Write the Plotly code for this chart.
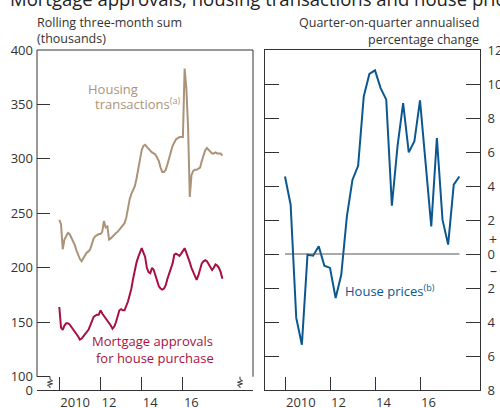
import plotly.graph_objects as go

# ---------------- data ----------------
# Monthly, Jan 2010 .. Dec 2017 (rolling three-month sums, thousands)
months_start = 2010
transactions = [244, 240, 217, 226, 229, 232, 231, 228, 225, 221, 216, 212,
                208, 206, 209, 212, 214, 215, 217, 222, 227, 229, 230, 231,
                231, 233, 243, 237, 238, 226, 227, 229, 230, 232, 233, 235,
                237, 239, 241, 246, 256, 263, 268, 271, 275, 282, 290, 300,
                308, 312, 313, 311, 309, 307, 306, 305, 304, 301, 298, 292,
                288, 288, 290, 295, 301, 307, 312, 315, 318, 319, 320, 320,
                320, 383, 365, 330, 265, 285, 289, 290, 290, 291, 292, 298,
                303, 308, 310, 308, 306, 305, 305, 306, 305, 305, 305, 303]
approvals = [164, 145, 143, 147, 149, 149, 148, 146, 143, 141, 140, 137,
             134, 135, 137, 139, 141, 143, 147, 152, 155, 156, 157, 157,
             161, 158, 156, 154, 152, 149, 147, 144, 146, 150, 155, 161,
             162, 161, 161, 165, 169, 175, 181, 190, 198, 205, 210, 215,
             218, 214, 210, 200, 196, 195, 200, 198, 193, 188, 183, 181,
             180, 181, 184, 190, 195, 200, 204, 212, 213, 212, 211, 213,
             215, 218, 214, 210, 205, 200, 196, 192, 189, 193, 198, 204,
             206, 207, 206, 203, 200, 198, 200, 203, 202, 200, 196, 190]
# Quarterly, 2010 Q1 .. 2017 Q4 (annualised % change)
house_prices = [4.56, 2.9, -3.76, -5.34, -0.04, -0.1, 0.45, -0.69,
                -0.82, -2.59, -1.22, 2.21, 4.37, 5.19, 9.27, 10.59,
                10.8, 9.76, 9.08, 2.84, 6.33, 8.88, 5.98, 6.63,
                9.04, 5.15, 1.62, 6.82, 2.02, 0.55, 4.08, 4.56]

x_tick_years = [2010, 2012, 2014, 2016]
x_tick_text = ["2010", "12", "14", "16"]
left_tick_vals = [100, 150, 200, 250, 300, 350, 400]
right_tick_vals = [-8, -6, -4, -2, 0, 2, 4, 6, 8, 10, 12]

month_x = [months_start + i / 12 for i in range(len(transactions))]
quarter_x = [months_start + i / 4 for i in range(len(house_prices))]

# ---------------- geometry helpers ----------------
W, H = 500, 408
def px(x):
    return x / W
def py(y):
    return 1 - y / H

TOP, BOT = 50, 390
L0, L1 = 37, 253
R0, R1 = 265, 480
Y100 = 376.7
LEFT_BOTTOM = 100 - (BOT - Y100) / ((Y100 - TOP) / 300)

TAN = "#ab937a"
RED = "#a8103f"
BLUE = "#0b5890"
AX = "#333333"
FONT = "Open Sans"

fig = go.Figure()
fig.add_trace(go.Scatter(x=month_x, y=transactions, mode="lines",
                         line=dict(color=TAN, width=2), xaxis="x", yaxis="y",
                         hoverinfo="skip"))
fig.add_trace(go.Scatter(x=month_x, y=approvals, mode="lines",
                         line=dict(color=RED, width=2), xaxis="x", yaxis="y",
                         hoverinfo="skip"))
fig.add_trace(go.Scatter(x=quarter_x, y=house_prices, mode="lines",
                         line=dict(color=BLUE, width=2), xaxis="x2", yaxis="y2",
                         hoverinfo="skip"))

tickfont = dict(family=FONT, size=13, color=AX)

fig.update_layout(
    width=W, height=H, margin=dict(l=0, r=0, t=0, b=0, autoexpand=False),
    paper_bgcolor="white", plot_bgcolor="white", showlegend=False,
    font=dict(family=FONT, color=AX),
    title=dict(text="Mortgage approvals, housing transactions and house prices",
               x=10 / W, xanchor="left", xref="container",
               y=1, yanchor="middle", yref="container",
               font=dict(family=FONT, size=18.5, color="#222222")),
    xaxis=dict(domain=[px(L0), px(L1)],
               range=[2010 - (59.3 - L0) / 20.6, 2010 + (L1 - 59.3) / 20.6],
               tickvals=x_tick_years, ticktext=x_tick_text,
               ticks="inside", ticklen=13, tickcolor=AX, tickwidth=1,
               ticklabelposition="outside right",
               showline=True, linecolor=AX, linewidth=1,
               showgrid=False, zeroline=False, tickfont=tickfont,
               anchor="y", fixedrange=True),
    yaxis=dict(domain=[py(BOT), py(TOP)],
               range=[LEFT_BOTTOM, 400],
               tickvals=[LEFT_BOTTOM] + left_tick_vals,
               ticktext=["0"] + [str(v) for v in left_tick_vals],
               ticks="inside", ticklen=13, tickcolor=AX, tickwidth=1,
               showline=False, showgrid=False, zeroline=False,
               tickfont=tickfont, anchor="x", ticklabelstandoff=3),
    yaxis3=dict(overlaying="y", side="right", anchor="x",
                range=[LEFT_BOTTOM, 400], tickvals=left_tick_vals,
                showticklabels=False, ticks="inside", ticklen=13,
                tickcolor=AX, tickwidth=1, showline=False, showgrid=False,
                zeroline=False),
    xaxis2=dict(domain=[px(R0), px(R1)],
                range=[2010 - (285 - R0) / 22.5, 2010 + (R1 - 285) / 22.5],
                tickvals=x_tick_years, ticktext=x_tick_text,
                ticks="inside", ticklen=13, tickcolor=AX, tickwidth=1,
                ticklabelposition="outside right",
                showline=True, mirror=True, linecolor=AX, linewidth=1,
                showgrid=False, zeroline=False, tickfont=tickfont,
                anchor="y2"),
    yaxis2=dict(domain=[py(BOT), py(TOP)], range=[-8, 12], side="right",
                tickvals=right_tick_vals,
                ticktext=[str(abs(v)) for v in right_tick_vals],
                ticks="inside", ticklen=14, tickcolor=AX, tickwidth=1,
                showline=True, mirror="ticks", linecolor=AX, linewidth=1,
                showgrid=False, zeroline=False, tickfont=tickfont,
                anchor="x2", ticklabelstandoff=4),
)

shapes = []
def line(x0, y0, x1, y1):
    shapes.append(dict(type="line", xref="paper", yref="paper",
                       x0=px(x0), y0=py(y0), x1=px(x1), y1=py(y1),
                       line=dict(color=AX, width=1)))
line(L0, TOP, L1, TOP)
line(L0, TOP, L0, Y100)
line(L1, TOP, L1, Y100)

def squiggle(x):
    pts = [(x, Y100), (x, 379.5), (x + 2.5, 380.8), (x - 2.5, 382.3),
           (x + 2.5, 383.8), (x - 2.5, 385.3), (x, 386.5), (x, 388)]
    path = "M " + " L ".join(f"{px(a):.5f},{py(b):.5f}" for a, b in pts)
    shapes.append(dict(type="path", xref="paper", yref="paper", path=path,
                       line=dict(color=AX, width=1)))
squiggle(50)
squiggle(240)

# zero line in right panel
shapes.append(dict(type="line", xref="x2", yref="y2",
                   x0=quarter_x[0], x1=quarter_x[-1], y0=0, y1=0,
                   line=dict(color="#555555", width=1)))
fig.update_layout(shapes=shapes)

ann = []
def text(t, x, y, anchor="left", color=AX, size=12.5):
    ann.append(dict(text=t, xref="paper", yref="paper", x=px(x), y=py(y),
                    xanchor=anchor, yanchor="middle", showarrow=False,
                    font=dict(family=FONT, size=size, color=color)))

text("Rolling three-month sum", 35, 22)
text("(thousands)", 35, 38.5)
text("Quarter-on-quarter annualised", 481, 22, anchor="right")
text("percentage change", 481, 39, anchor="right")
text("Housing", 86, 89, color=TAN, size=13)
text("transactions<sup>(a)</sup>", 93, 103, color=TAN, size=13)
text("Mortgage approvals", 215, 341, anchor="right", color=RED, size=13)
text("for house purchase", 216, 358, anchor="right", color=RED, size=13)
text("House prices<sup>(b)</sup>", 343, 290, color=BLUE, size=13)
text("+", 493, 239, anchor="center", size=14)
text("\u2013", 493, 270, anchor="center", size=14)
fig.update_layout(annotations=ann)

fig.write_html("out.html",
               config={"displayModeBar": False, "staticPlot": True},
               post_script="document.body.style.margin='0';"
                           "document.body.style.overflow='hidden';")
